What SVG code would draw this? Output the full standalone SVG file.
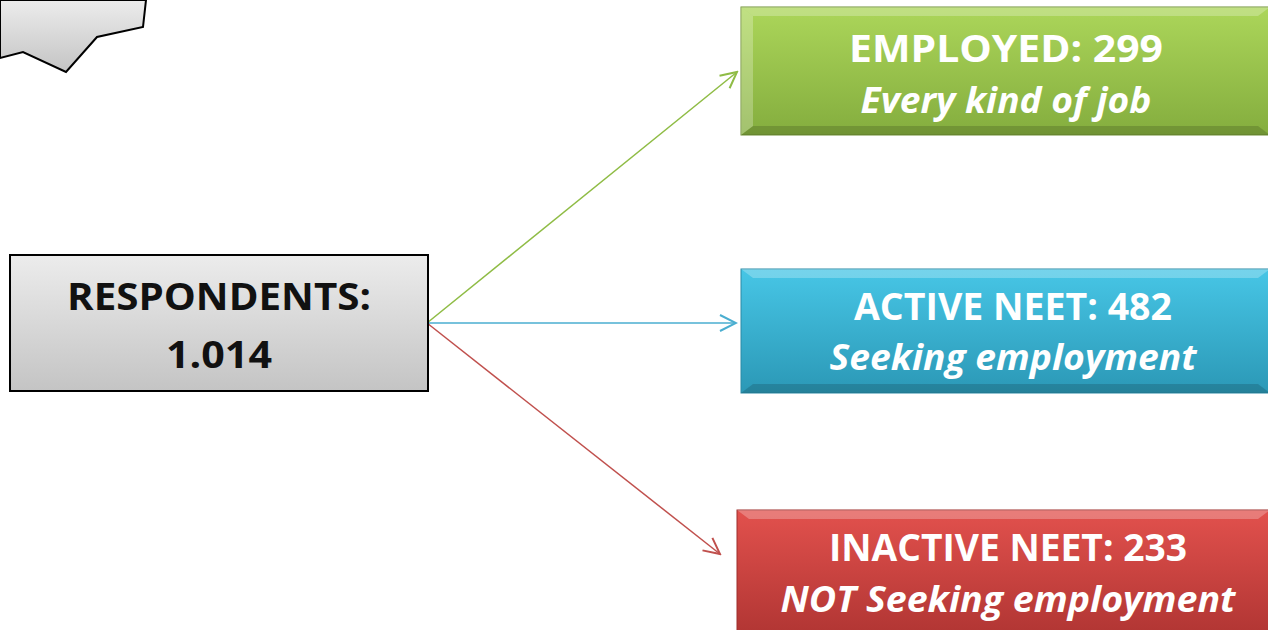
<svg xmlns="http://www.w3.org/2000/svg" width="1268" height="630" viewBox="0 0 1268 630">
<defs>
<linearGradient id="gGray" x1="0" y1="0" x2="0" y2="1"><stop offset="0" stop-color="#ececec"/><stop offset="1" stop-color="#c4c4c4"/></linearGradient>
<linearGradient id="gGreen" x1="0" y1="0" x2="0" y2="1"><stop offset="0" stop-color="#acd65a"/><stop offset="1" stop-color="#84ad3e"/></linearGradient>
<linearGradient id="gBlue" x1="0" y1="0" x2="0" y2="1"><stop offset="0" stop-color="#47c6e6"/><stop offset="1" stop-color="#2b98b6"/></linearGradient>
<linearGradient id="gRed" x1="0" y1="0" x2="0" y2="1"><stop offset="0" stop-color="#e2514d"/><stop offset="1" stop-color="#b23634"/></linearGradient>
<marker id="aG" viewBox="0 0 20 20" refX="18" refY="10" markerWidth="20" markerHeight="20" markerUnits="userSpaceOnUse" orient="auto"><path d="M2,2 L18,10 L2,18" fill="none" stroke="#8fbc45" stroke-width="2"/></marker>
<marker id="aB" viewBox="0 0 20 20" refX="18" refY="10" markerWidth="20" markerHeight="20" markerUnits="userSpaceOnUse" orient="auto"><path d="M2,2 L18,10 L2,18" fill="none" stroke="#4aaed0" stroke-width="2"/></marker>
<marker id="aR" viewBox="0 0 20 20" refX="18" refY="10" markerWidth="20" markerHeight="20" markerUnits="userSpaceOnUse" orient="auto"><path d="M2,2 L18,10 L2,18" fill="none" stroke="#c0504d" stroke-width="2"/></marker>
</defs>
<style>
.t{font-family:"Open Sans","Liberation Sans",sans-serif;font-weight:bold;text-anchor:middle;}
.w{fill:#ffffff;}
.k{fill:#111111;}
.i{font-style:italic;}
.hl{fill:#ffffff;opacity:0.25;}
.sh{fill:#000000;opacity:0.15;}
</style>
<g id="shape-topleft">
<polygon points="0,0 146,0 143,27 97,37 66,72 23,52 0,58" fill="url(#gGray)" stroke="#000" stroke-width="2"/>
</g>
<g id="connectors" fill="none" stroke-width="1.5">
<line x1="427" y1="323" x2="737" y2="72" stroke="#8fbc45" marker-end="url(#aG)"/>
<line x1="427" y1="323" x2="736" y2="323" stroke="#4aaed0" marker-end="url(#aB)"/>
<line x1="427" y1="323" x2="720" y2="554" stroke="#c0504d" marker-end="url(#aR)"/>
</g>
<g id="node-respondents">
<rect x="10" y="255" width="418" height="136" fill="url(#gGray)" stroke="#000" stroke-width="2"/>
<text class="t k" x="219" y="310" font-size="37" textLength="304" lengthAdjust="spacingAndGlyphs">RESPONDENTS:</text>
<text class="t k" x="219" y="368" font-size="37" textLength="106" lengthAdjust="spacingAndGlyphs">1.014</text>
</g>
<g id="node-employed">
<rect x="741" y="7" width="529" height="128" fill="url(#gGreen)" stroke="#6f8f35" stroke-width="1"/>
<polygon class="hl" points="741,7 1270,7 1258,16 753,16"/>
<polygon class="sh" points="741,135 1270,135 1258,126 753,126"/>
<polygon class="hl" points="741,7 753,16 753,126 741,135" opacity="0.15"/>
<text class="t w" x="1006" y="62" font-size="37" textLength="314" lengthAdjust="spacingAndGlyphs">EMPLOYED: 299</text>
<text class="t w i" x="1006" y="113" font-size="35" textLength="291" lengthAdjust="spacingAndGlyphs">Every kind of job</text>
</g>
<g id="node-active">
<rect x="741" y="269" width="529" height="124" fill="url(#gBlue)" stroke="#2a8aa5" stroke-width="1"/>
<polygon class="hl" points="741,269 1270,269 1258,278 753,278"/>
<polygon class="sh" points="741,393 1270,393 1258,384 753,384"/>
<text class="t w" x="1013" y="320" font-size="37" textLength="318" lengthAdjust="spacingAndGlyphs">ACTIVE NEET:  482</text>
<text class="t w i" x="1013" y="370" font-size="35" textLength="367" lengthAdjust="spacingAndGlyphs">Seeking employment</text>
</g>
<g id="node-inactive">
<rect x="737" y="510" width="533" height="122" fill="url(#gRed)" stroke="#9e2f2c" stroke-width="1"/>
<polygon class="hl" points="737,510 1270,510 1258,519 749,519"/>
<text class="t w" x="1008" y="561" font-size="37" textLength="358" lengthAdjust="spacingAndGlyphs">INACTIVE NEET:  233</text>
<text class="t w i" x="1008" y="612" font-size="35" textLength="455" lengthAdjust="spacingAndGlyphs">NOT Seeking employment</text>
</g>
</svg>
